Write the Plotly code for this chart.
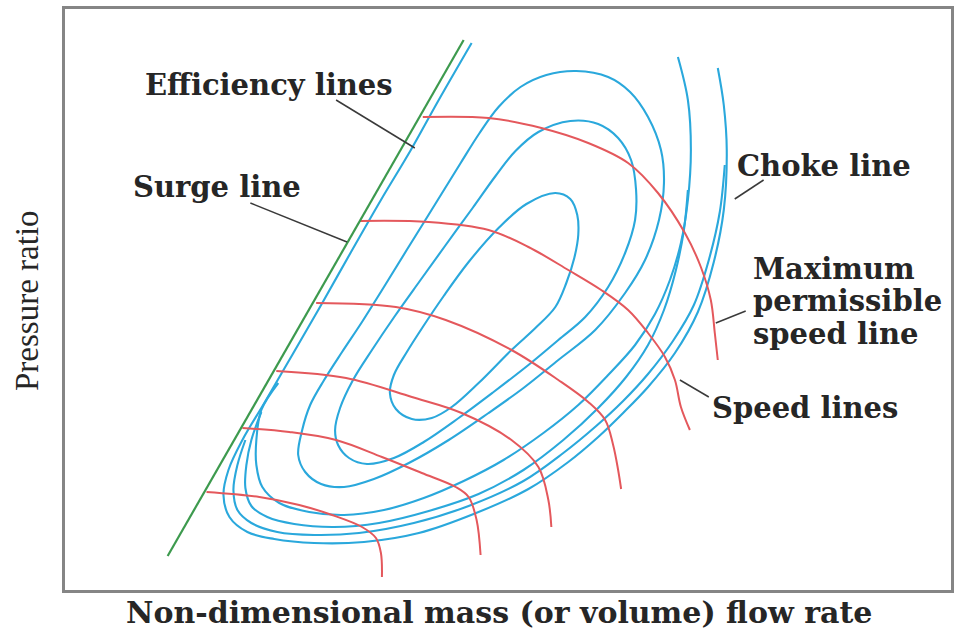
import plotly.graph_objects as go

# ---------------- data (flow units ~ horizontal, pressure-ratio units ~ vertical) -------------
SURGE_FLOW = [168, 465]
SURGE_PR = [78, 594]

# efficiency lines (closed loops, innermost first)
E1_FLOW = [445, 470, 500, 528, 557, 572, 579, 580, 576, 568, 557, 537, 513, 480, 453, 433, 413, 397, 391, 395, 408, 424, 445]
E1_PR = [338, 372, 406, 430, 441, 435, 419, 399, 376, 351, 327, 306, 284, 251, 227, 216, 215, 225, 241, 259, 282, 307, 338]

E2_FLOW = [396, 421, 447, 474, 497, 517, 540, 572, 600, 620, 633, 638, 637, 627, 610, 587, 560, 530, 495, 460, 425, 395, 368, 350, 339, 336, 341, 354, 373, 396]
E2_PR = [318, 353, 389, 426, 458, 483, 502, 513, 510, 496, 474, 444, 414, 381, 347, 317, 294, 269, 242, 216, 192, 176, 170, 176, 189, 204, 226, 254, 284, 318]

E3_FLOW = [385, 411, 439, 462, 481, 500, 522, 548, 578, 610, 632, 650, 663, 666, 661, 647, 627, 597, 560, 525, 490, 450, 410, 375, 345, 322, 306, 299, 303, 311, 325, 343, 363, 385]
E3_PR = [347, 389, 434, 471, 501, 527, 547, 559, 563, 557, 542, 517, 484, 451, 414, 374, 341, 304, 274, 246, 221, 194, 171, 155, 147, 150, 162, 179, 204, 229, 254, 282, 312, 347]

# outer (open) efficiency lines, outermost first
OA_FLOW = [473, 440, 412, 382, 352, 322, 293, 265, 243, 229, 224, 230, 248, 275, 315, 365, 420, 475, 530, 570, 600, 625, 650, 677, 700, 716, 726, 729, 726, 720]
OA_PR = [591, 534, 484, 434, 382, 329, 279, 231, 194, 164, 139, 117, 102, 95, 91, 92, 101, 120, 145, 172, 197, 221, 247, 281, 322, 372, 424, 484, 529, 566]

OB_FLOW = [246, 238, 234, 238, 252, 278, 315, 360, 415, 470, 525, 565, 598, 625, 650, 675, 696, 711, 722, 727]
OB_PR = [194, 169, 144, 124, 111, 102, 99, 101, 111, 128, 153, 181, 208, 233, 260, 293, 329, 374, 422, 469]

OC_FLOW = [262, 252, 247, 246, 252, 268, 295, 335, 380, 430, 480, 525, 565, 600, 628, 650, 666, 678, 686, 690]
OC_PR = [222, 194, 169, 146, 128, 117, 110, 107, 111, 123, 140, 164, 194, 226, 257, 289, 324, 364, 404, 444]

OD_FLOW = [279, 262, 257, 257, 263, 280, 310, 345, 385, 425, 465, 505, 545, 580, 610, 637, 657, 672, 683, 690, 693, 690, 680]
OD_PR = [251, 224, 194, 169, 147, 131, 122, 119, 124, 136, 153, 174, 201, 229, 259, 289, 320, 354, 391, 434, 484, 534, 577]

# speed lines (bottom to top)
S1_FLOW = [207, 260, 300, 333, 363, 377, 382, 383]
S1_PR = [142, 137, 129, 119, 107, 96, 81, 57]
S2_FLOW = [243, 290, 337, 383, 423, 457, 470, 478, 482]
S2_PR = [206, 202, 194, 177, 161, 147, 137, 114, 79]
S3_FLOW = [277, 347, 413, 463, 513, 540, 550, 553]
S3_PR = [263, 256, 237, 221, 194, 167, 134, 107]
S4_FLOW = [317, 397, 447, 513, 560, 590, 607, 615, 620, 623]
S4_PR = [331, 327, 314, 284, 254, 232, 214, 189, 164, 145]
S5_FLOW = [361, 430, 490, 530, 570, 603, 630, 650, 667, 677, 683, 692]
S5_PR = [413, 412, 404, 387, 364, 344, 324, 301, 277, 254, 227, 204]
S6_FLOW = [424, 490, 543, 590, 630, 660, 687, 703, 713, 717, 720]
S6_PR = [517, 516, 506, 491, 471, 441, 401, 367, 334, 301, 274]

# labels
LABELS = ["Efficiency lines", "Surge line", "Choke line",
          "Maximum", "permissible", "speed line", "Speed lines"]
LABEL_X = [270, 218, 827, 753, 753, 753, 808]
LABEL_Y = [549, 447, 468, 365, 333, 300, 226]
LABEL_ANCHOR = ["center", "center", "center", "left", "left", "left", "center"]

# pointer lines (start near text, end on the curve)
PTR_X0 = [337, 251, 766, 748, 711]
PTR_Y0 = [534, 431, 454, 323, 237]
PTR_X1 = [416, 348, 737, 718, 682]
PTR_Y1 = [486, 392, 435, 311, 254]

X_TITLE = "Non-dimensional mass (or volume) flow rate"
Y_TITLE = "Pressure ratio"

BLUE = "#2aa8dc"
RED = "#e4585c"
GREEN = "#3d9a4e"
TEXT = "#262626"

fig = go.Figure()

for fx, fy in [(E1_FLOW, E1_PR), (E2_FLOW, E2_PR), (E3_FLOW, E3_PR),
               (OA_FLOW, OA_PR), (OB_FLOW, OB_PR), (OC_FLOW, OC_PR), (OD_FLOW, OD_PR)]:
    fig.add_trace(go.Scatter(x=fx, y=fy, mode="lines",
                             line=dict(color=BLUE, width=2.1, shape="spline", smoothing=1.0),
                             hoverinfo="skip", showlegend=False))

for fx, fy in [(S1_FLOW, S1_PR), (S2_FLOW, S2_PR), (S3_FLOW, S3_PR),
               (S4_FLOW, S4_PR), (S5_FLOW, S5_PR), (S6_FLOW, S6_PR)]:
    fig.add_trace(go.Scatter(x=fx, y=fy, mode="lines",
                             line=dict(color=RED, width=2, shape="spline", smoothing=1.0),
                             hoverinfo="skip", showlegend=False))

fig.add_trace(go.Scatter(x=SURGE_FLOW, y=SURGE_PR, mode="lines",
                         line=dict(color=GREEN, width=2.2),
                         hoverinfo="skip", showlegend=False))

for i in range(len(PTR_X0)):
    fig.add_trace(go.Scatter(x=[PTR_X0[i], PTR_X1[i]], y=[PTR_Y0[i], PTR_Y1[i]], mode="lines",
                             line=dict(color="#3a3a3a", width=1.5),
                             hoverinfo="skip", showlegend=False))

LBL_FONT = dict(family="DejaVu Serif", size=29, color=TEXT, weight="bold")
for i, t in enumerate(LABELS):
    fig.add_annotation(x=LABEL_X[i], y=LABEL_Y[i], text=t, showarrow=False,
                       xanchor=LABEL_ANCHOR[i], yanchor="middle", align="left",
                       font=LBL_FONT)

fig.add_annotation(xref="paper", yref="paper", x=0.49, y=-0.038, text=X_TITLE,
                   showarrow=False, xanchor="center", yanchor="middle",
                   font=dict(family="DejaVu Serif", size=30, color=TEXT, weight="bold"))
fig.add_annotation(xref="paper", yref="paper", x=-0.043, y=0.499, text=Y_TITLE,
                   showarrow=False, textangle=-90, xanchor="center", yanchor="middle",
                   font=dict(family="Liberation Serif", size=33, color=TEXT))

fig.update_xaxes(range=[65, 954], showgrid=False, zeroline=False, showticklabels=False,
                 ticks="", showline=True, mirror=True, linecolor="#858585", linewidth=3)
fig.update_yaxes(range=[44, 625], showgrid=False, zeroline=False, showticklabels=False,
                 ticks="", showline=True, mirror=True, linecolor="#858585", linewidth=3)

fig.update_layout(width=954, height=634, margin=dict(l=65, r=0, t=9, b=44),
                  paper_bgcolor="white", plot_bgcolor="white")

fig.write_html("out.html")
